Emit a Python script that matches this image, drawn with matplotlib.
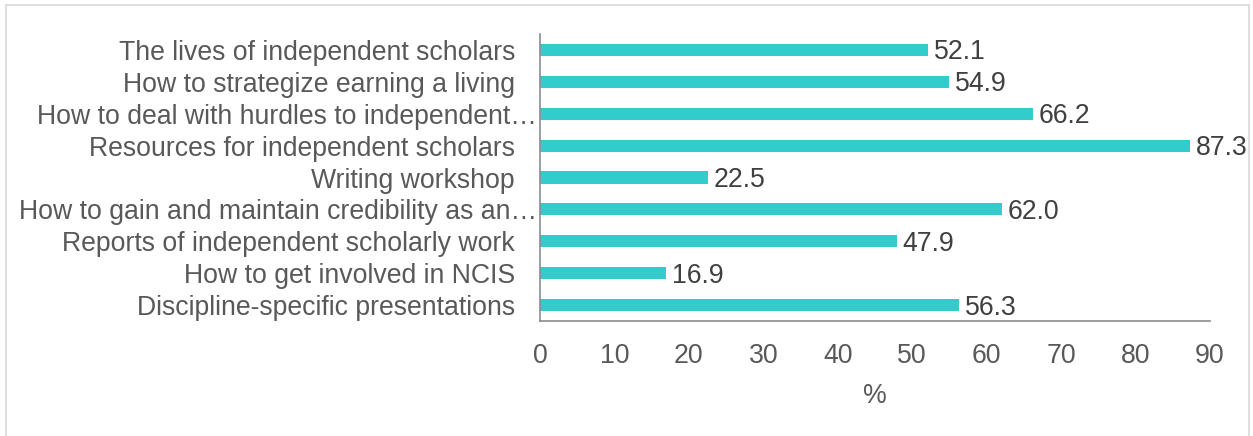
import matplotlib
matplotlib.use("Agg")
import matplotlib.pyplot as plt
from matplotlib.lines import Line2D
from matplotlib.transforms import ScaledTranslation

categories = [
    "The lives of independent scholars",
    "How to strategize earning a living",
    "How to deal with hurdles to independent\u2026",
    "Resources for independent scholars",
    "Writing workshop",
    "How to gain and maintain credibility as an\u2026",
    "Reports of independent scholarly work",
    "How to get involved in NCIS",
    "Discipline-specific presentations",
]
values = [52.1, 54.9, 66.2, 87.3, 22.5, 62.0, 47.9, 16.9, 56.3]
xticks = [0, 10, 20, 30, 40, 50, 60, 70, 80, 90]

plt.rcParams['font.family'] = ['Liberation Sans', 'DejaVu Sans']
W, H = 1253, 436
FS = 19.2
fig = plt.figure(figsize=(W/100, H/100), dpi=100)
ax = fig.add_axes([540/W, 1-321/H, (1210-540)/W, (321-34)/H])

ypos = list(range(len(categories)))
ax.barh(ypos, values, height=0.38, color="#33CCCC")
ax.set_ylim(len(categories)-0.5, -0.5)
ax.set_xlim(0, 90)
ax.set_yticks(ypos)
ax.set_yticklabels(categories, fontsize=FS, color="#595959")
ax.set_xticks(xticks)
ax.set_xticklabels([str(t) for t in xticks], fontsize=FS, color="#595959")
ax.tick_params(axis='y', length=0, pad=18)
ax.tick_params(axis='x', length=0, pad=16)
for s in ['top', 'right']:
    ax.spines[s].set_visible(False)
for s in ['left', 'bottom']:
    ax.spines[s].set_color("#8C8C8C")
    ax.spines[s].set_linewidth(1.2)
ax.set_xlabel("%", fontsize=FS, color="#595959", labelpad=10)

# truncated labels extend up to the axis line
shift = ScaledTranslation(0.22, 0, fig.dpi_scale_trans)
for lab in ax.get_yticklabels():
    if lab.get_text().endswith("\u2026"):
        lab.set_transform(lab.get_transform() + shift)

for y, v in zip(ypos, values):
    ax.text(v + 0.8, y + 0.08, f"{v:.1f}", va='center', ha='left',
            fontsize=FS, color="#404040")

# figure border
c = "#D9D9D9"
fig.add_artist(Line2D([6/W, 6/W], [0, 1-5/H], color=c, lw=1.2, transform=fig.transFigure))
fig.add_artist(Line2D([6/W, 1249/W], [1-5/H, 1-5/H], color=c, lw=1.2, transform=fig.transFigure))
fig.add_artist(Line2D([1249/W, 1249/W], [0, 1-5/H], color=c, lw=1.2, transform=fig.transFigure))

fig.savefig("out.png", dpi=100)
